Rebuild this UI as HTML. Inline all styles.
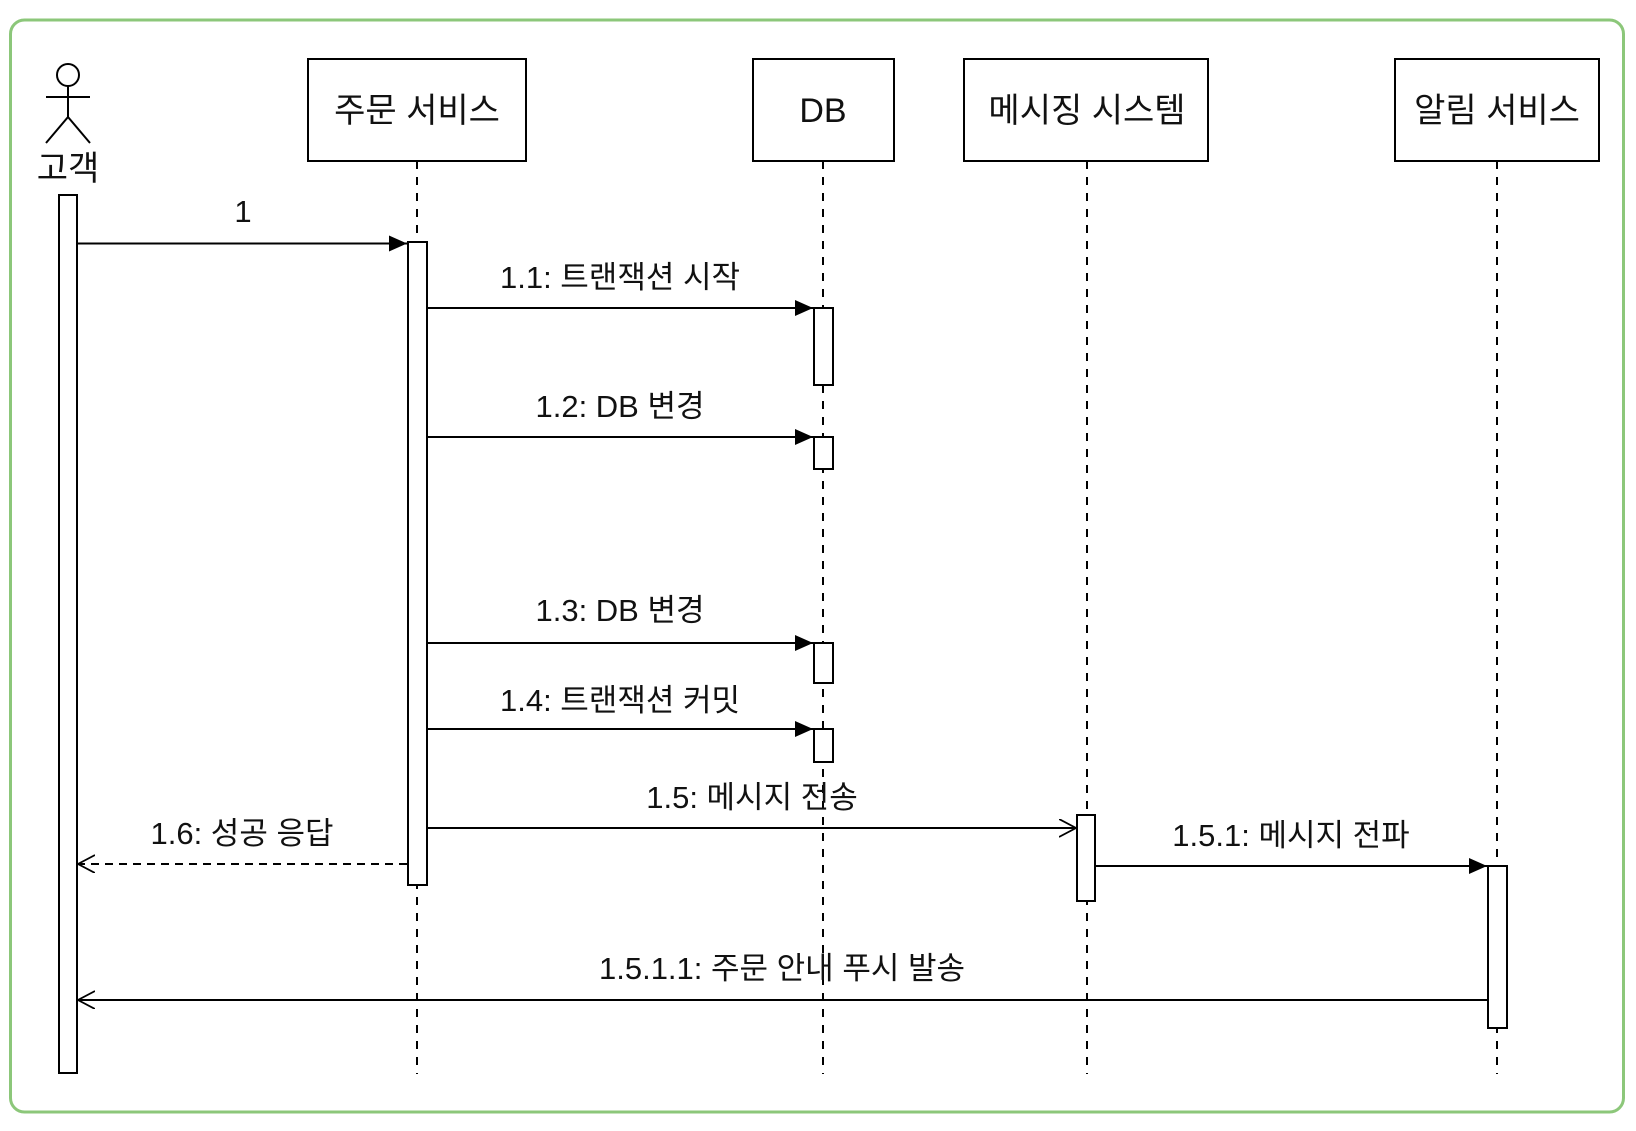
<!DOCTYPE html>
<html><head><meta charset="utf-8"><style>
html,body{margin:0;padding:0;background:#fff;}
svg text{font-family:"Liberation Sans","Noto Sans CJK KR",sans-serif;fill:#111;}
</style></head><body>
<svg width="1636" height="1126" viewBox="0 0 1636 1126" xmlns="http://www.w3.org/2000/svg">
<defs>
<marker id="f" markerWidth="20" markerHeight="20" refX="18" refY="8" orient="auto" markerUnits="userSpaceOnUse"><path d="M0,0 L18,8 L0,16 Z" fill="#000"/></marker>
<marker id="o" markerWidth="20" markerHeight="20" refX="17" refY="9" orient="auto" markerUnits="userSpaceOnUse"><path d="M0,0 L17,9 L0,18" fill="none" stroke="#000" stroke-width="1.8"/></marker>
</defs>
<rect x="10.5" y="20" width="1613" height="1092" rx="14" fill="#fff" stroke="#8cc77a" stroke-width="3"/>
<g stroke="#000" stroke-width="2" fill="none">
<circle cx="68" cy="75" r="11"/>
<line x1="68" y1="86" x2="68" y2="117"/>
<line x1="46" y1="97" x2="90" y2="97"/>
<line x1="68" y1="117" x2="46" y2="143"/>
<line x1="68" y1="117" x2="90" y2="143"/>
</g>
<text x="68" y="180" font-size="34" text-anchor="middle">고객</text>
<g stroke="#000" stroke-width="2" fill="#fff">
<rect x="308" y="59" width="218" height="102"/>
<rect x="753" y="59" width="141" height="102"/>
<rect x="964" y="59" width="244" height="102"/>
<rect x="1395" y="59" width="204" height="102"/>
</g>
<g font-size="34" text-anchor="middle">
<text x="417" y="122">주문 서비스</text>
<text x="823" y="122">DB</text>
<text x="1087" y="122">메시징 시스템</text>
<text x="1497" y="122">알림 서비스</text>
</g>
<g stroke="#000" stroke-width="2" stroke-dasharray="8,8">
<line x1="417" y1="161" x2="417" y2="1074"/>
<line x1="823" y1="161" x2="823" y2="1074"/>
<line x1="1087" y1="161" x2="1087" y2="1074"/>
<line x1="1497" y1="161" x2="1497" y2="1074"/>
</g>
<g stroke="#000" stroke-width="2" fill="#fff">
<rect x="59" y="195" width="18" height="878"/>
<rect x="408" y="242" width="19" height="643"/>
<rect x="814" y="308" width="19" height="77"/>
<rect x="814" y="437" width="19" height="32"/>
<rect x="814" y="643" width="19" height="40"/>
<rect x="814" y="729" width="19" height="33"/>
<rect x="1077" y="815" width="18" height="86"/>
<rect x="1488" y="866" width="19" height="162"/>
</g>
<g stroke="#000" stroke-width="2" fill="none">
<line x1="77" y1="243.5" x2="407" y2="243.5" marker-end="url(#f)"/>
<line x1="427" y1="308" x2="813" y2="308" marker-end="url(#f)"/>
<line x1="427" y1="437" x2="813" y2="437" marker-end="url(#f)"/>
<line x1="427" y1="643" x2="813" y2="643" marker-end="url(#f)"/>
<line x1="427" y1="729" x2="813" y2="729" marker-end="url(#f)"/>
<line x1="427" y1="828" x2="1076" y2="828" marker-end="url(#o)"/>
<line x1="407" y1="864" x2="78" y2="864" stroke-dasharray="8,6" marker-end="url(#o)"/>
<line x1="1095" y1="866" x2="1487" y2="866" marker-end="url(#f)"/>
<line x1="1488" y1="1000" x2="78" y2="1000" marker-end="url(#o)"/>
</g>
<g font-size="31" text-anchor="middle">
<text x="243" y="222">1</text>
<text x="620" y="288">1.1: 트랜잭션 시작</text>
<text x="620" y="417">1.2: DB 변경</text>
<text x="620" y="621">1.3: DB 변경</text>
<text x="620" y="711">1.4: 트랜잭션 커밋</text>
<text x="752" y="808">1.5: 메시지 전송</text>
<text x="242" y="844">1.6: 성공 응답</text>
<text x="1291" y="846">1.5.1: 메시지 전파</text>
<text x="782" y="979">1.5.1.1: 주문 안내 푸시 발송</text>
</g>
</svg>
</body></html>
